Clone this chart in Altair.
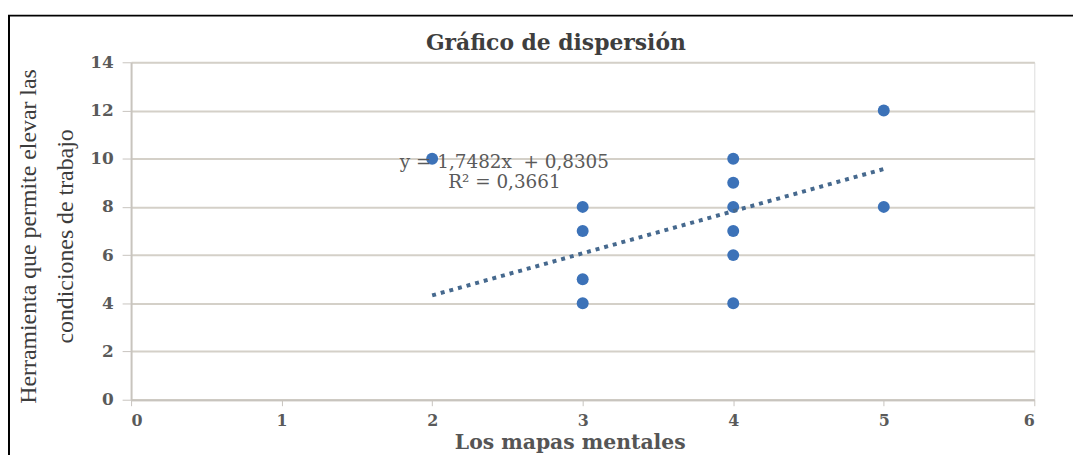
import altair as alt
import pandas as pd

# --- data ---
x_vals = [2, 3, 3, 3, 3, 4, 4, 4, 4, 4, 4, 5, 5]
y_vals = [10, 8, 7, 5, 4, 10, 9, 8, 7, 6, 4, 12, 8]

trend_x = [2, 5]
slope = 1.7482
intercept = 0.8305
eq_text = ["y = 1,7482x\u00a0 + 0,8305", "R² = 0,3661"]
eq_pos_x = [2.48]
eq_pos_y = [9.63]

x_ticks = [0, 1, 2, 3, 4, 5, 6]
y_ticks = [0, 2, 4, 6, 8, 10, 12, 14]

pts = pd.DataFrame({"x": x_vals, "y": y_vals})
trend = pd.DataFrame({"x": trend_x})
eq = pd.DataFrame({"x": eq_pos_x, "y": eq_pos_y, "t": ["\n".join(eq_text)]})

W, H = 910, 340

xscale = alt.Scale(domain=[0, 6], nice=False, zero=True)
yscale = alt.Scale(domain=[0, 14], nice=False, zero=True)

xaxis = alt.Axis(
    values=x_ticks, format="d", grid=False,
    domainColor="#C8C4BE", domainWidth=2,
    tickColor="#C8C4BE", tickSize=6, tickWidth=1,
    labelFont="DejaVu Serif", labelFontSize=16, labelFontWeight="bold",
    labelColor="#5a5a5a", labelPadding=7,
    title="Los mapas mentales", titleFont="DejaVu Serif", titleFontSize=20.5,
    titleFontWeight="bold", titleColor="#555555",
    titleX=442, titleY=49, titleAlign="center", titleBaseline="alphabetic",
)
yaxis = alt.Axis(
    values=y_ticks, format="d", grid=True, gridColor="#D4D0C8", gridWidth=2,
    domainColor="#C8C4BE", domainWidth=2,
    tickColor="#C8C4BE", tickSize=9, tickWidth=1,
    labelFont="DejaVu Serif", labelFontSize=17, labelFontWeight="bold",
    labelColor="#5a5a5a", labelPadding=9,
    title=["Herramienta que permite elevar las", "condiciones de trabajo"],
    titleFont="Liberation Serif", titleFontSize=24, titleFontWeight="normal",
    titleColor="#3c3c3c", titleAngle=-90, titleX=-96, titleY=175,
    titleAlign="center", titleBaseline="alphabetic", titleLineHeight=37,
)

base_pts = alt.Chart(pts).mark_circle(size=145, color="#3C72B8", opacity=1).encode(
    x=alt.X("x:Q", scale=xscale, axis=xaxis),
    y=alt.Y("y:Q", scale=yscale, axis=yaxis),
)

trend_line = alt.Chart(trend).transform_calculate(
    y=f"{slope} * datum.x + {intercept}"
).mark_line(
    color="#46698E", strokeWidth=4, strokeDash=[4, 5], strokeCap="butt"
).encode(
    x=alt.X("x:Q", scale=xscale),
    y=alt.Y("y:Q", scale=yscale),
)

eq_text_mark = alt.Chart(eq).mark_text(
    font="DejaVu Serif", fontSize=18.5, color="#5a5a5a", align="center",
    baseline="alphabetic", lineBreak="\n", lineHeight=21,
).encode(
    x=alt.X("x:Q", scale=xscale),
    y=alt.Y("y:Q", scale=yscale),
    text="t:N",
)

border = alt.Chart(pd.DataFrame({"k": [0]})).mark_rect(
    fill=None, stroke="#000000", strokeWidth=2
).encode(
    x=alt.value(-123), x2=alt.value(1200),
    y=alt.value(-47), y2=alt.value(600),
)

chart = alt.layer(base_pts, trend_line, eq_text_mark, border).properties(
    width=W, height=H,
    autosize=alt.AutoSizeParams(type="none"),
    padding={"left": 124, "top": 53, "right": 39, "bottom": 54},
    title=alt.TitleParams(
        "Gráfico de dispersión", font="DejaVu Serif", fontSize=22,
        fontWeight="bold", color="#3e3e3e", anchor="middle", dx=-27,
        offset=-58, baseline="alphabetic",
    ),
).configure_view(
    fill="#FFFDCC", stroke=None
).configure(background="#FFFFFF")

chart.save("out.html", embed_options={"renderer": "svg", "actions": False})
